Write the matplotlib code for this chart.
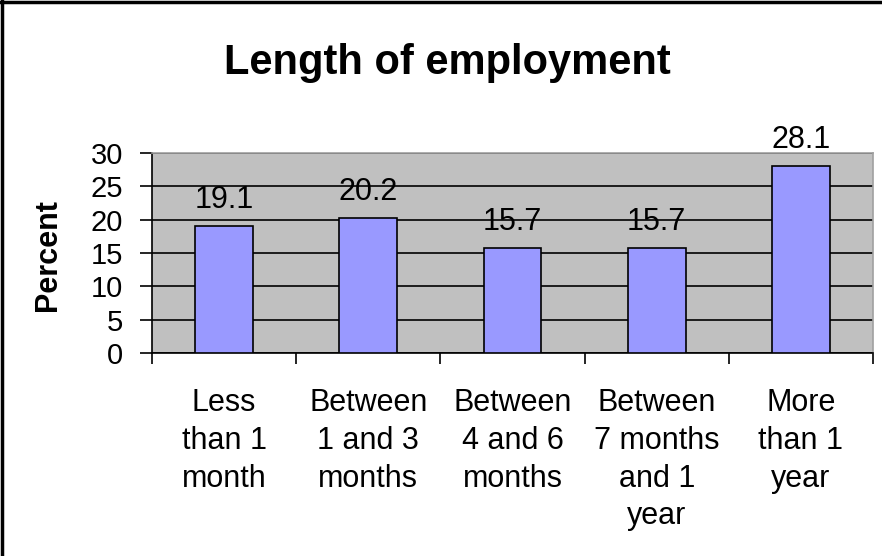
import matplotlib
matplotlib.use("Agg")
import matplotlib.pyplot as plt
from matplotlib.lines import Line2D

plt.rcParams['font.family'] = ['Liberation Sans', 'DejaVu Sans']

categories = ["Less\nthan 1\nmonth", "Between\n1 and 3\nmonths", "Between\n4 and 6\nmonths",
              "Between\n7 months\nand 1\nyear", "More\nthan 1\nyear"]
values = [19.1, 20.2, 15.7, 15.7, 28.1]
yticks = [0, 5, 10, 15, 20, 25, 30]

fig = plt.figure(figsize=(8.82, 5.56), dpi=100)
fig.patch.set_facecolor('white')
ax = fig.add_axes([152/882, 1-353/556, 721/882, 200/556])
ax.set_facecolor('#C0C0C0')

x = list(range(len(values)))
ax.bar(x, values, width=0.4, color='#9999FF', edgecolor='black', linewidth=1.2, zorder=3)
ax.set_xlim(-0.5, len(values) - 0.5)
ax.set_ylim(0, 30)
ax.set_yticks(yticks)
ax.set_yticklabels([str(t) for t in yticks], fontsize=21)
ax.yaxis.grid(True, color='black', linewidth=1.2, zorder=0)
ax.set_axisbelow(True)
ax.set_xticks([i + 0.5 for i in range(-1, len(values))])
ax.set_xticklabels([])
ax.tick_params(axis='x', length=8, width=1.2, direction='out')
ax.tick_params(axis='y', length=9, width=1.2, direction='out', pad=12)
for i, c in enumerate(categories):
    ax.text(i, -0.175, c, transform=ax.get_xaxis_transform(), ha='center', va='top',
            fontsize=22, linespacing=1.34)

for s in ['top', 'right']:
    ax.spines[s].set_color('#A0A0A0')
    ax.spines[s].set_linewidth(1.2)
for s in ['left', 'bottom']:
    ax.spines[s].set_color('black')
    ax.spines[s].set_linewidth(1.2)

for i, v in enumerate(values):
    ax.annotate(f"{v}", (i, v), xytext=(0, 13), textcoords='offset points',
                ha='center', va='baseline', fontsize=22, zorder=5)

fig.text(48/882, 1-255/556, "Percent", rotation=90, ha='center', va='center',
         fontsize=22, fontweight='bold')

fig.text(447/882, 1-74/556, "Length of employment", ha='center', va='baseline',
         fontsize=30, fontweight='bold')

fig.add_artist(Line2D([2/882, 2/882], [0, 1], color='black', linewidth=2.5, transform=fig.transFigure))
fig.add_artist(Line2D([0, 1], [1-2/556, 1-2/556], color='black', linewidth=2.5, transform=fig.transFigure))

fig.savefig("out.png", dpi=100)
